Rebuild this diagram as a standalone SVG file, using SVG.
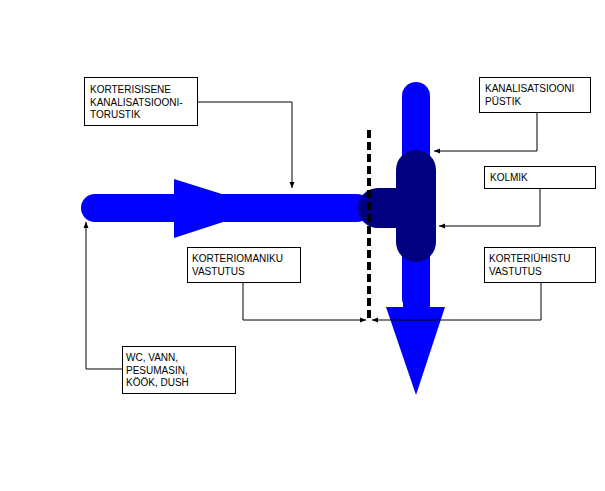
<svg xmlns="http://www.w3.org/2000/svg" width="605" height="491" viewBox="0 0 605 491">
<defs>
<style>
.box{fill:#fff;stroke:#000;stroke-width:1}
.t{font-family:"Liberation Sans",Arial,sans-serif;font-size:10px;fill:#000}
.c{fill:none;stroke:#000;stroke-width:1}
.blue{fill:#0000ff}
.dark{fill:#000080}
</style>
<marker id="ah" viewBox="0 0 6 6" refX="6" refY="3" markerWidth="6" markerHeight="6" markerUnits="userSpaceOnUse" orient="auto">
<path d="M0,0.5 L6,3 L0,5.5 Z" fill="#000"/>
</marker>
</defs>
<rect width="605" height="491" fill="#fff"/>
<g id="pipes">
<rect class="blue" x="81" y="194" width="290" height="28" rx="14"/>
<polygon class="blue" points="174,179 174,238 266,208"/>
<rect class="blue" x="402" y="82" width="28" height="230" rx="14"/>
<rect class="blue" x="403" y="250" width="27" height="60"/>
<polygon class="blue" points="386,307 445,307 416,395"/>
<rect class="dark" x="358" y="188" width="60" height="40" rx="20"/>
<rect class="dark" x="396" y="150" width="40" height="112" rx="20"/>
<line x1="369" y1="130" x2="369" y2="322" stroke="#000" stroke-width="4" stroke-dasharray="8 4"/>
</g>
<g id="connectors">
<polyline class="c" points="198,102 292,102 292,188" marker-end="url(#ah)"/>
<polyline class="c" points="537,113 537,151 434,151" marker-end="url(#ah)"/>
<polyline class="c" points="540,189 540,226 439,226" marker-end="url(#ah)"/>
<polyline class="c" points="541,283 541,320 372,320" marker-end="url(#ah)"/>
<polyline class="c" points="243,283 243,320 366,320" marker-end="url(#ah)"/>
<polyline class="c" points="122,369 86,369 86,222" marker-end="url(#ah)"/>
</g>
<g id="n1">
<rect class="box" x="84.5" y="77.5" width="113" height="48"/>
<text class="t" x="90" y="93">KORTERISISENE</text>
<text class="t" x="90" y="106">KANALISATSIOONI-</text>
<text class="t" x="90" y="118">TORUSTIK</text>
</g>
<g id="n2">
<rect class="box" x="479.5" y="77.5" width="111" height="35"/>
<text class="t" x="485" y="92">KANALISATSIOONI</text>
<text class="t" x="485" y="105">PÜSTIK</text>
</g>
<g id="n3">
<rect class="box" x="484.5" y="166.5" width="111" height="22"/>
<text class="t" x="490" y="181">KOLMIK</text>
</g>
<g id="n4">
<rect class="box" x="484.5" y="247.5" width="111" height="35"/>
<text class="t" x="489" y="262">KORTERIÜHISTU</text>
<text class="t" x="489" y="275">VASTUTUS</text>
</g>
<g id="n5">
<rect class="box" x="187.5" y="247.5" width="113" height="35"/>
<text class="t" x="192" y="262">KORTERIOMANIKU</text>
<text class="t" x="192" y="275">VASTUTUS</text>
</g>
<g id="n6">
<rect class="box" x="122.5" y="346.5" width="113" height="47"/>
<text class="t" x="126" y="361">WC, VANN,</text>
<text class="t" x="126" y="373.5">PESUMASIN,</text>
<text class="t" x="126" y="386">KÖÖK, DUSH</text>
</g>
</svg>
